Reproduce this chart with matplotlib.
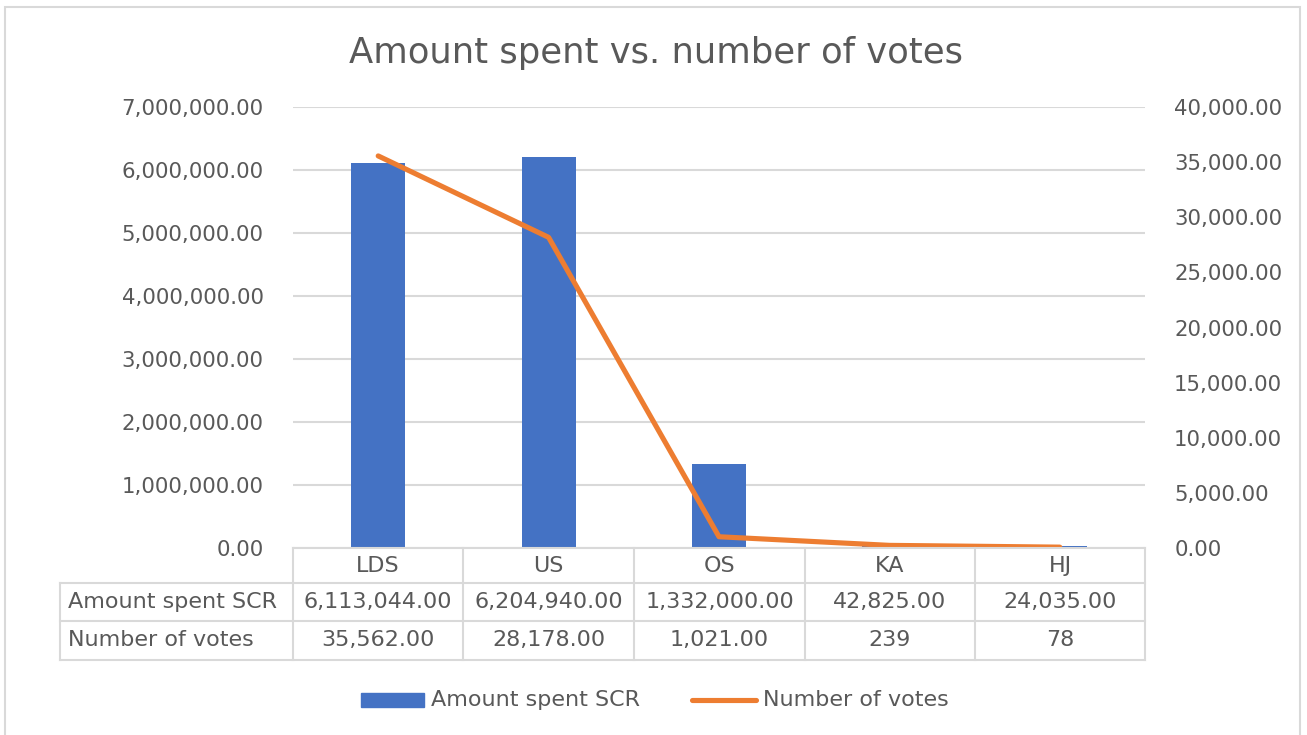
import matplotlib.pyplot as plt
from matplotlib.patches import Rectangle
from matplotlib.lines import Line2D
from matplotlib.ticker import FuncFormatter

# Data
categories = ["LDS", "US", "OS", "KA", "HJ"]
amount_spent = [6113044.00, 6204940.00, 1332000.00, 42825.00, 24035.00]
votes = [35562.00, 28178.00, 1021.00, 239, 78]
amount_labels = ["6,113,044.00", "6,204,940.00", "1,332,000.00", "42,825.00", "24,035.00"]
votes_labels = ["35,562.00", "28,178.00", "1,021.00", "239", "78"]
left_ticks = [0, 1e6, 2e6, 3e6, 4e6, 5e6, 6e6, 7e6]
right_ticks = [0, 5000, 10000, 15000, 20000, 25000, 30000, 35000, 40000]

BLUE = "#4472C4"
ORANGE = "#ED7D31"
TXT = "#595959"
GRID = "#D9D9D9"

plt.rcParams['font.family'] = ['DejaVu Sans']

W, H = 1307, 735
fig = plt.figure(figsize=(W / 100, H / 100), dpi=100)

def fx(px):
    return px / W

def fy(py):
    return 1 - py / H

# outer chart border
fig.patches.append(Rectangle((fx(5), fy(740)), fx(1300) - fx(5), fy(7) - fy(740),
                             transform=fig.transFigure, fill=False, edgecolor=GRID, lw=1.5))

x0, x1, y0, y1 = 293, 1145, 107, 548
ax = fig.add_axes([fx(x0), fy(y1), fx(x1) - fx(x0), fy(y0) - fy(y1)])
ax2 = ax.twinx()

xs = list(range(len(categories)))
ax.bar(xs, amount_spent, width=0.317, color=BLUE, zorder=3)
ax2.plot(xs, votes, color=ORANGE, lw=3.7, solid_capstyle='round',
         solid_joinstyle='round', zorder=4)

ax.set_xlim(-0.5, len(categories) - 0.5)
ax.set_ylim(0, 7e6)
ax2.set_ylim(0, 40000)
ax.set_yticks(left_ticks)
ax2.set_yticks(right_ticks)
fmt = FuncFormatter(lambda v, p: f"{v:,.2f}")
ax.yaxis.set_major_formatter(fmt)
ax2.yaxis.set_major_formatter(fmt)
ax.set_xticks([])
for a in (ax, ax2):
    for s in a.spines.values():
        s.set_visible(False)
    a.tick_params(axis='y', length=0, labelsize=15.3, labelcolor=TXT)
ax.tick_params(axis='y', pad=21)
ax2.tick_params(axis='y', pad=21)
ax.grid(axis='y', color=GRID, lw=1.5, zorder=0)
ax.set_axisbelow(True)
ax2.set_zorder(ax.get_zorder() + 1)
ax2.patch.set_visible(False)

fig.text(fx(656), fy(63), "Amount spent vs. number of votes", ha='center', va='baseline',
         fontsize=25.5, color=TXT)

# data table
col_edges = [293, 463, 634, 805, 975, 1145]
row_edges = [548, 583, 621, 660]
tbl_left = 60
lkw = dict(transform=fig.transFigure, color=GRID, lw=1.5)
fig.add_artist(Line2D([fx(x0), fx(x1)], [fy(row_edges[0])] * 2, **lkw))
for r in row_edges[1:]:
    fig.add_artist(Line2D([fx(tbl_left), fx(x1)], [fy(r)] * 2, **lkw))
for c in col_edges:
    fig.add_artist(Line2D([fx(c)] * 2, [fy(row_edges[0]), fy(row_edges[-1])], **lkw))
fig.add_artist(Line2D([fx(tbl_left)] * 2, [fy(row_edges[1]), fy(row_edges[-1])], **lkw))

TS = 16
tkw = dict(ha='center', va='center', fontsize=TS, color=TXT)
for i, cat in enumerate(categories):
    cx = fx((col_edges[i] + col_edges[i + 1]) / 2)
    fig.text(cx, fy((row_edges[0] + row_edges[1]) / 2), cat, **tkw)
    fig.text(cx, fy((row_edges[1] + row_edges[2]) / 2), amount_labels[i], **tkw)
    fig.text(cx, fy((row_edges[2] + row_edges[3]) / 2), votes_labels[i], **tkw)
fig.text(fx(68), fy((row_edges[1] + row_edges[2]) / 2), "Amount spent SCR",
         ha='left', va='center', fontsize=TS, color=TXT)
fig.text(fx(68), fy((row_edges[2] + row_edges[3]) / 2), "Number of votes",
         ha='left', va='center', fontsize=TS, color=TXT)

# legend
fig.patches.append(Rectangle((fx(361), fy(707)), fx(424) - fx(361), fy(693) - fy(707),
                             transform=fig.transFigure, color=BLUE))
fig.text(fx(431), fy(700), "Amount spent SCR", ha='left', va='center', fontsize=TS, color=TXT)
fig.add_artist(Line2D([fx(692), fx(756)], [fy(700)] * 2, transform=fig.transFigure,
                      color=ORANGE, lw=3.7, solid_capstyle='round'))
fig.text(fx(763), fy(700), "Number of votes", ha='left', va='center', fontsize=TS, color=TXT)

fig.savefig("out.png", dpi=100, facecolor='white')
